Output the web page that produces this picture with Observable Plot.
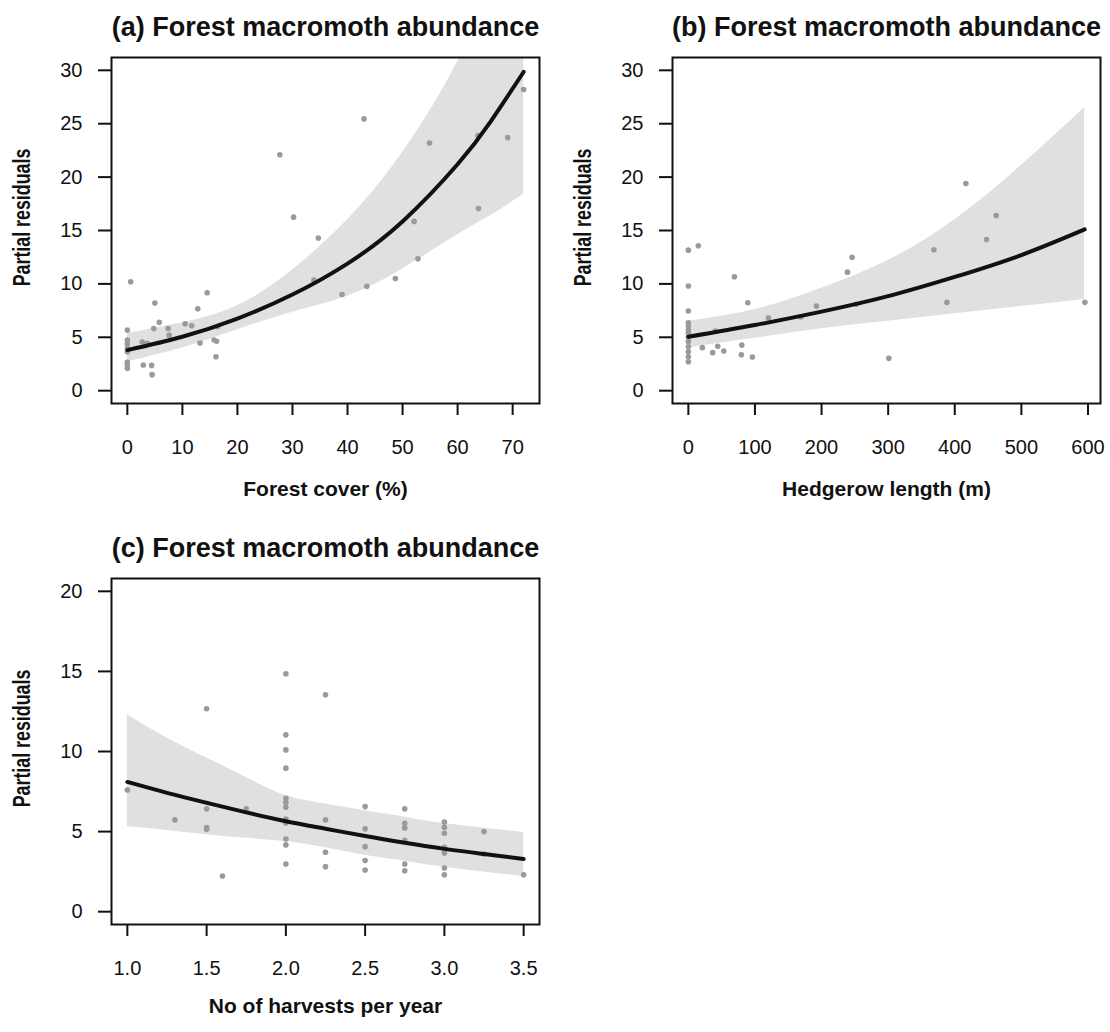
<!DOCTYPE html>
<html><head><meta charset="utf-8">
<script src="https://cdn.jsdelivr.net/npm/d3@7"></script>
<script src="https://cdn.jsdelivr.net/npm/@observablehq/plot@0.6"></script>
<style>
body{margin:0;background:#fff;}
#chart{position:relative;width:1110px;height:1032px;background:#fff;overflow:hidden;}
#chart svg{position:absolute;overflow:visible;}
</style></head><body><div id="chart"></div>
<script>
// ---------- Panel (a): Forest cover ----------
const aX = [0.6, 27.7, 30.2, 34.7, 33.9, 39.0, 0, 0, 0, 0, 0, 0, 0, 0, 2.7, 3.6, 2.9, 4.4, 4.5, 5.0, 5.8, 4.8, 7.4, 7.6, 10.5, 11.7, 12.8, 14.5, 13.2, 15.75, 16.2, 16.4, 16.1, 43.0, 54.9, 63.7, 69.1, 72.0, 63.8, 52.1, 52.8, 48.7, 43.5];
const aY = [10.2, 22.1, 16.25, 14.3, 10.35, 9.0, 5.68, 4.74, 4.4, 4.0, 3.65, 2.65, 2.4, 2.1, 4.56, 4.43, 2.4, 2.37, 1.5, 8.2, 6.4, 5.83, 5.83, 5.2, 6.27, 6.08, 7.67, 9.17, 4.46, 4.74, 4.62, 6.0, 3.18, 25.45, 23.2, 23.9, 23.7, 28.2, 17.06, 15.85, 12.35, 10.5, 9.77];
const aFitX = [0, 10, 20, 30, 40, 50, 60, 66, 72];
const aFit  = [3.8, 5.05, 6.75, 9.0, 11.9, 15.85, 21.2, 25.2, 29.85];
const aBandX = [0, 10, 20, 30, 40, 50, 60, 66, 72];
const aLo = [2.7, 4.0, 5.7, 7.35, 8.85, 11.4, 14.6, 16.4, 18.4];
const aHi = [5.35, 6.35, 7.95, 11.3, 16.0, 22.3, 30.8, 38.5, 48];

// ---------- Panel (b): Hedgerow length ----------
const bX = [0, 15, 0, 0, 0, 0, 0, 0, 0, 0, 0, 0, 0, 0, 21, 36.6, 44.1, 53.2, 40.6, 69.1, 89.2, 80.2, 79.6, 96.1, 120.2, 169, 192.3, 238.9, 245.9, 251.9, 301, 416.7, 462.2, 447.7, 368.6, 388.2, 595.4];
const bY = [13.16, 13.57, 9.8, 7.46, 6.36, 6.05, 5.68, 5.37, 5.0, 4.6, 4.12, 3.65, 3.18, 2.71, 4.03, 3.56, 4.15, 3.71, 5.58, 10.67, 8.23, 4.27, 3.37, 3.15, 6.8, 6.9, 7.92, 11.1, 12.5, 8.1, 3.03, 19.4, 16.4, 14.16, 13.2, 8.27, 8.27];
const bFitX = [0, 100, 200, 300, 400, 500, 595];
const bFit  = [5.05, 6.15, 7.4, 8.85, 10.65, 12.7, 15.1];
const bBandX = [0, 100, 200, 300, 400, 500, 595];
const bLo = [4.0, 4.9, 5.8, 6.5, 7.2, 7.9, 8.55];
const bHi = [6.5, 7.6, 9.6, 12.2, 16.0, 21.1, 26.5];

// ---------- Panel (c): Harvests per year ----------
const cX = [1.0, 1.3, 1.5, 1.5, 1.5, 1.5, 1.6, 1.75,
  2, 2, 2, 2, 2, 2, 2, 2, 2, 2, 2, 2,
  2.25, 2.25, 2.25, 2.25,
  2.5, 2.5, 2.5, 2.5, 2.5,
  2.75, 2.75, 2.75, 2.75, 2.75, 2.75,
  3, 3, 3, 3, 3, 3, 3,
  3.25, 3.25, 3.5];
const cY = [7.6, 5.73, 12.67, 6.42, 5.25, 5.15, 2.23, 6.42,
  14.85, 11.04, 10.1, 8.96, 7.08, 6.83, 6.52, 5.79, 5.54, 4.54, 4.17, 2.98,
  13.54, 5.73, 3.71, 2.81,
  6.56, 5.17, 4.06, 3.19, 2.6,
  6.42, 5.52, 5.23, 4.45, 2.98, 2.56,
  5.6, 5.27, 4.9, 4.02, 3.67, 2.73, 2.31,
  5.0, 3.6, 2.31];
const cFitX = [1.0, 1.25, 1.5, 1.75, 2.0, 2.25, 2.5, 2.75, 3.0, 3.25, 3.5];
const cFit  = [8.1, 7.42, 6.8, 6.2, 5.65, 5.18, 4.72, 4.3, 3.92, 3.6, 3.29];
const cBandX = [1.0, 1.25, 1.5, 1.75, 2.0, 2.25, 2.5, 2.75, 3.0, 3.5];
const cLo = [5.3, 5.07, 4.8, 4.58, 4.38, 3.99, 3.52, 3.15, 2.78, 2.2];
const cHi = [12.3, 10.85, 9.6, 8.37, 7.25, 6.72, 6.3, 5.9, 5.5, 4.95];

// ---------- tick labels & texts ----------
const aTicksX = [0, 10, 20, 30, 40, 50, 60, 70];
const bTicksX = [0, 100, 200, 300, 400, 500, 600];
const cTicksX = [1.0, 1.5, 2.0, 2.5, 3.0, 3.5];
const abTicksY = [0, 5, 10, 15, 20, 25, 30];
const cTicksY = [0, 5, 10, 15, 20];
const titles = ["(a) Forest macromoth abundance", "(b) Forest macromoth abundance", "(c) Forest macromoth abundance"];
const xLabels = ["Forest cover (%)", "Hedgerow length (m)", "No of harvests per year"];
const yLabel = "Partial residuals";

const FONT = "'Liberation Sans', Arial, Helvetica, sans-serif";
const INK = "#111";

function panel(o) {
  const pts = o.xs.map((x, i) => ({x, y: o.ys[i]}));
  const fit = o.fitX.map((x, i) => ({x, y: o.fit[i]}));
  const band = o.bandX.map((x, i) => ({x, lo: o.lo[i], hi: o.hi[i]}));
  const svg = Plot.plot({
    width: o.width, height: o.height,
    marginLeft: 111, marginTop: 57,
    marginRight: o.width - 111 - 428, marginBottom: o.height - 57 - 346,
    style: {fontFamily: FONT, color: INK, background: "transparent", overflow: "visible"},
    x: {domain: o.xDomain},
    y: {domain: o.yDomain},
    marks: [
      Plot.areaY(band, {x: "x", y1: "lo", y2: "hi", fill: "#e0e0e0", curve: "natural", clip: true}),
      Plot.dot(pts, {x: "x", y: "y", r: 2.8, fill: "#9a9a9a", stroke: null}),
      Plot.line(fit, {x: "x", y: "y", stroke: INK, strokeWidth: 4, curve: "natural", clip: true}),
      Plot.frame({stroke: INK, strokeWidth: 2}),
      Plot.axisX({ticks: o.xTicks, tickFormat: o.xFormat, tickSize: 12, tickPadding: 24, fontSize: 20, strokeWidth: 2, stroke: INK, fill: INK, label: null}),
      Plot.axisY({ticks: o.yTicks, tickSize: 13, tickPadding: 16, fontSize: 20, strokeWidth: 2, stroke: INK, fill: INK, label: null}),
      Plot.text([o.title], {text: d => d, frameAnchor: "top", dy: -21.6, lineAnchor: "bottom", fontSize: 27, fontWeight: "bold", fill: INK}),
      Plot.text([o.xLabel], {text: d => d, frameAnchor: "bottom", dy: o.xLabelOffset, lineAnchor: "bottom", fontSize: 21, fontWeight: "bold", fill: INK}),
      Plot.text([yLabel], {text: d => d, frameAnchor: "left", textAnchor: "middle", rotate: -90, dx: -98, dy: -13, lineAnchor: "top", fontSize: 23, fontWeight: "bold", fill: INK})
    ]
  });
  svg.querySelectorAll("text").forEach(t => {
    if (t.textContent === yLabel) {
      const tr = t.getAttribute("transform") || "";
      t.setAttribute("transform", tr + " scale(0.775,1)");
    }
  });
  svg.style.left = o.left + "px";
  svg.style.top = o.top + "px";
  document.getElementById("chart").appendChild(svg);
}

panel({xs: aX, ys: aY, fitX: aFitX, fit: aFit, bandX: aBandX, lo: aLo, hi: aHi,
  xDomain: [-2.88, 74.88], yDomain: [-1.2, 31.2], xTicks: aTicksX, yTicks: abTicksY,
  xFormat: d3.format("d"), title: titles[0], xLabel: xLabels[0], xLabelOffset: 92,
  width: 555, height: 516, left: 0, top: 0});

panel({xs: bX, ys: bY, fitX: bFitX, fit: bFit, bandX: bBandX, lo: bLo, hi: bHi,
  xDomain: [-23.8, 618.8], yDomain: [-1.2, 31.2], xTicks: bTicksX, yTicks: abTicksY,
  xFormat: d3.format("d"), title: titles[1], xLabel: xLabels[1], xLabelOffset: 92,
  width: 549, height: 516, left: 561, top: 0});

panel({xs: cX, ys: cY, fitX: cFitX, fit: cFit, bandX: cBandX, lo: cLo, hi: cHi,
  xDomain: [0.9, 3.6], yDomain: [-0.8, 20.8], xTicks: cTicksX, yTicks: cTicksY,
  xFormat: d3.format(".1f"), title: titles[2], xLabel: xLabels[2], xLabelOffset: 88,
  width: 555, height: 511, left: 0, top: 521});
</script></body></html>
